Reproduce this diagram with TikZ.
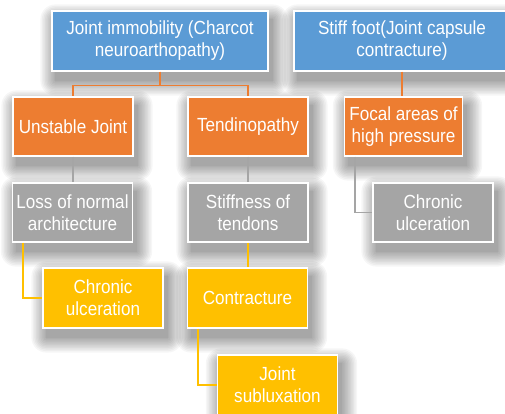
\documentclass[tikz,border=0pt]{standalone}
\usepackage{fontspec}
\setmainfont{Liberation Sans}[FakeStretch=0.9]
\usetikzlibrary{backgrounds}
\definecolor{cblue}{HTML}{5B9BD5}
\definecolor{corange}{HTML}{ED7D31}
\definecolor{cgray}{HTML}{A5A5A5}
\definecolor{cyellow}{HTML}{FFC000}
\newcommand{\softshadow}[1]{%
  \foreach \r in {0,1.5,...,15}{%
    \fill[black, opacity=0.035, rounded corners=\r pt]
      ([shift={(4-\r,9-\r)}]#1.north west) rectangle ([shift={(4+\r,9+\r)}]#1.south east);}}
\begin{document}
\begin{tikzpicture}[x=1pt,y=-1pt,
  box/.style={draw=white, line width=1.2pt, text=white, align=center,
    minimum width=120pt, minimum height=59pt, inner sep=0pt,
    font=\fontsize{19}{22}\selectfont},
  bluebox/.style={box, fill=cblue, minimum width=216pt, minimum height=60pt},
  orangebox/.style={box, fill=corange},
  graybox/.style={box, fill=cgray},
  yellowbox/.style={box, fill=cyellow, minimum height=60pt},
  conn/.style={line width=1.5pt}]
\clip (0,0) rectangle (505,414);
% nodes
\node[bluebox] (b1) at (160,41) {Joint immobility (Charcot\\neuroarthopathy)};
\node[bluebox] (b2) at (402,41) {Stiff foot(Joint capsule\\contracture)};
\node[orangebox] (o1) at (73,126.5) {Unstable Joint};
\node[orangebox] (o2) at (248,126.5) {Tendinopathy};
\node[orangebox, minimum width=118pt] (o3) at (403.5,126.5) {Focal areas of\\high pressure};
\node[graybox] (g1) at (72.5,212.5) {Loss of normal\\architecture};
\node[graybox] (g2) at (248,212.5) {Stiffness of\\tendons};
\node[graybox] (g3) at (433,212.5) {Chronic\\ulceration};
\node[yellowbox] (y1) at (103,298) {Chronic\\ulceration};
\node[yellowbox] (y2) at (247.5,298) {Contracture};
\node[yellowbox] (y3) at (277.5,385) {Joint\\subluxation};
% background and shadows
\begin{scope}[on background layer]
\fill[white] (0,0) rectangle (505,414);
\foreach \n in {b1,b2,o1,o2,o3,g1,g2,g3,y1,y2,y3}{\softshadow{\n}}
\end{scope}
% connectors
\draw[conn, corange] (b1.south) -- ++(0,14) -| (o1.north);
\draw[conn, corange] (b1.south) -- ++(0,14) -| (o2.north);
\draw[conn, corange] (b2.south) -- (b2.south |- o3.north);
\draw[conn, cgray] (o1.south) -- (o1.south |- g1.north);
\draw[conn, cgray] (o2.south) -- (o2.south |- g2.north);
\draw[conn, cgray] ([xshift=11pt]o3.south west) |- (g3.west);
\draw[conn, cyellow] ([xshift=11pt]g1.south west) |- (y1.west);
\draw[conn, cyellow] (g2.south) -- (g2.south |- y2.north);
\draw[conn, cyellow] ([xshift=11pt]y2.south west) |- (y3.west);
\end{tikzpicture}
\end{document}
